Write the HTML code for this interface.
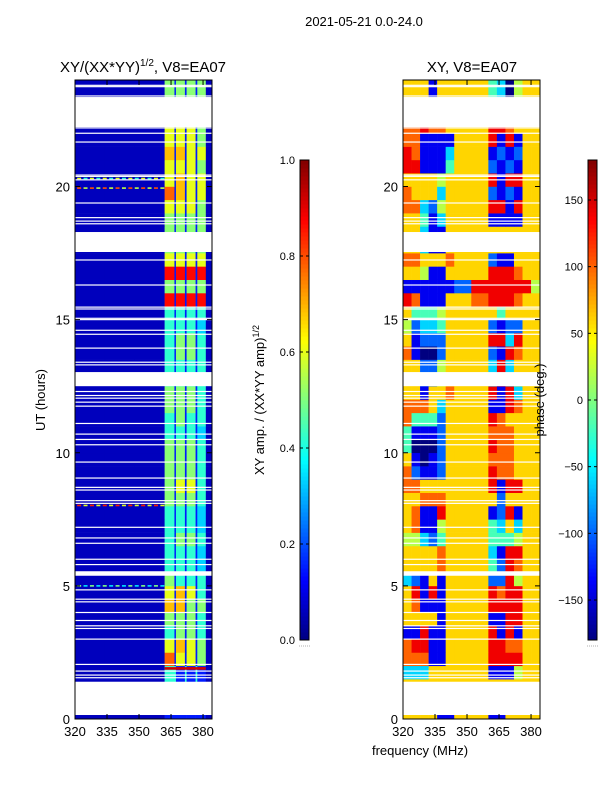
<!DOCTYPE html>
<html><head><meta charset="utf-8">
<style>
html,body{margin:0;padding:0;background:#fff;}
svg{display:block;font-family:"Liberation Sans",sans-serif;}
</style></head>
<body>
<svg id="fig" width="600" height="800" viewBox="0 0 600 800" xmlns="http://www.w3.org/2000/svg">
<rect width="600" height="800" fill="#fff"/>
<text x="364" y="26" font-size="13" text-anchor="middle">2021-05-21 0.0-24.0</text>
<text x="143" y="72" font-size="15" text-anchor="middle">XY/(XX*YY)<tspan font-size="10" dy="-6">1/2</tspan><tspan dy="6">, V8=EA07</tspan></text>
<text x="472" y="72" font-size="15" text-anchor="middle">XY, V8=EA07</text>
<text x="45" y="400" font-size="13" text-anchor="middle" transform="rotate(-90 45 400)">UT (hours)</text>
<text x="420" y="755" font-size="13" text-anchor="middle">frequency (MHz)</text>
<g id="ampPanel"></g>
<g id="phPanel"></g>
<g id="cb1"></g>
<g id="cb2"></g>
<text x="264" y="400" font-size="13" text-anchor="middle" transform="rotate(-90 264 400)">XY amp. / (XX*YY amp)<tspan font-size="9" dy="-5">1/2</tspan></text>
<text x="544" y="400" font-size="13" text-anchor="middle" transform="rotate(-90 544 400)">phase (deg.)</text>
</svg>
<script>
// ---- data ----
const yTicks = [0, 5, 10, 15, 20];
const xTicks = [320, 335, 350, 365, 380];
const ampFreqEdges = [320, 334, 348, 362, 366.6, 367.3, 371.5, 372.3, 376.5, 377.3, 381.3, 384.2];
// amplitude rows, 0.5 h bins from 0 h upward; digit d -> 0.06 + 0.09 d
const ampRows = [
"00011111110","00011111110","00044141410","00044141410","00081616150","00061716150",
"00041515140","00051515140","00071715150","00061716140","00051414140","00041414130",
"00041414130","00041515140","00041414130","00041414130","00051515140","00051616140",
"00051515140","00051515140","00051515140","00041414130","00041514140","00051515140",
"00051515140","00041414140","00041414140","00041515140","00041515140","00041414130",
"00041414140","00091919190","00051515150","00091919190","00061616160","00051515150",
"00051515150","00051515150","00061616150","00081716160","00061716160","00061616150",
"00071716160","00061616150","00061616150","00051515150","00051515150","00051515150"];
const phFreqEdges = [320,324,328,332,336,340,344,348,352,356,360,364,368,372,376,380,384.2];
// phase rows, 0.5 h bins from 0 h upward; digit d -> -180 + 40 d deg
const phRows = [
"6666116666116666","6666666666666666","6666666666666666","3336666666111566",
"7771166666888866","7881166666887766","1181166666818166","6666166666118866",
"6711166666888866","6818166666878866","3216166666228566","6666766666428766",
"6666766666318866","5532466666444566","6711566666436366","6711866666128166",
"6677766666626666","7766666666818866","7211266666877666","6101266666777666",
"4000266666877666","4111266666777666","7444266666876666","7776366666118766",
"6616676666818366","6622566666383666","6622566666383666","7100266666218766",
"6122266666883866","5233466666212266","6444566666646666","8711166677888766",
"1111112288888885","6651166666888766","7766676666211666","6631166666666666",
"6631166666666666","6641366666111166","7732566666881866","7666366666212166",
"6666566666818866","8811146666212166","8711136666121266","7711116666818166",
"7787766666887666","6666666666666666","6661666666430566","6661666666430566"];
const gapStarts = [0.15, 5.38, 12.5, 17.54, 22.23];
const gapEnds   = [1.40, 5.55, 13.03, 18.29, 23.36];
const lineHours = [1.55,1.65,1.8,2.05,3.0,3.4,3.5,3.7,4.0,4.4,4.5,4.85,5.8,6.0,6.6,6.8,7.2,8.1,8.2,8.6,8.7,9.05,9.65,10.3,10.5,10.7,11.1,11.75,11.9,12.05,12.15,12.3,13.3,13.4,13.93,14.45,14.6,15.0,15.05,15.4,15.47,16.3,17.24,18.6,18.7,18.83,19.38,20.25,20.38,20.43,21.67,22.0,22.2,23.4,23.75,23.8];
const ampSpikeHours = [19.94, 20.3, 8.02, 5.0];
const ampSpikeValues = [0.8, 0.6, 0.85, 0.5];
const stripeLineHours = [1.9];
const stripeLineValues = [0.92];
const cb1Ticks = [0.0, 0.2, 0.4, 0.6, 0.8, 1.0];
const cb2Ticks = [-150, -100, -50, 0, 50, 100, 150];

// ---- helpers ----
const NS = "http://www.w3.org/2000/svg";
function jet(x){x=Math.max(0,Math.min(1,x));
  const c=v=>Math.round(255*Math.max(0,Math.min(1,v)));
  return `rgb(${c(1.5-Math.abs(4*x-3))},${c(1.5-Math.abs(4*x-2))},${c(1.5-Math.abs(4*x-1))})`;}
function el(tag, attrs, parent){const e=document.createElementNS(NS,tag);for(const k in attrs)e.setAttribute(k,attrs[k]);parent.appendChild(e);return e;}
const TOP=80, BOT=719, H=24;
function yPix(h){return BOT-(h/H)*(BOT-TOP);}
function makeX(x0){return f=>x0+(f-320)*(137/64.2);}

function drawPanel(g, x0, edges, rows, valFn, isAmp){
  const xs=makeX(x0);
  const bh=0.5;
  rows.forEach((row,ri)=>{
    for(let ci=0;ci<edges.length-1;ci++){
      const v=valFn(+row[ci]);
      const r=el('rect',{x:xs(edges[ci]).toFixed(2),y:yPix((ri+1)*bh).toFixed(2),width:(xs(edges[ci+1])-xs(edges[ci])+0.3).toFixed(2),height:(yPix(ri*bh)-yPix((ri+1)*bh)+0.3).toFixed(2),fill:jet(v)},g);
      
      
    }
  });
  if(isAmp){
    ampSpikeHours.forEach((h,i)=>{
      for(let f=321;f<361;f+=3){
        const s=el('rect',{x:xs(f),y:yPix(h)-0.8,width:4,height:1.6,fill:jet(ampSpikeValues[i]*((f%2)?1:0.7))},g);
        
        
      }
    });
    stripeLineHours.forEach((h,i)=>{
      const s=el('rect',{x:xs(362),y:yPix(h)-1.3,width:xs(381.3)-xs(362),height:2.6,fill:jet(stripeLineValues[i])},g);
      
      
    });
  }
  lineHours.forEach(h=>{
    const l=el('rect',{x:x0,y:yPix(h)-0.6,width:137,height:1.2,fill:'#fff'},g);
    
    
  });
  gapStarts.forEach((s,i)=>{
    const r=el('rect',{x:x0,y:yPix(gapEnds[i]),width:137,height:yPix(s)-yPix(gapEnds[i]),fill:'#fff'},g);
    
    
  });
  el('rect',{x:x0,y:TOP,width:137,height:BOT-TOP,fill:'none',stroke:'#000','stroke-width':1},g);
  yTicks.forEach(t=>{
    const y=yPix(t);
    el('line',{x1:x0,x2:x0+5,y1:y,y2:y,stroke:'#000'},g);
    el('line',{x1:x0+137,x2:x0+132,y1:y,y2:y,stroke:'#000'},g);
    const tx=el('text',{x:x0-5,y:y+5,'font-size':13,'text-anchor':'end'},g);
    tx.textContent=t;
    
    
  });
  xTicks.forEach(t=>{
    const x=xs(t);
    el('line',{x1:x,x2:x,y1:BOT,y2:BOT-5,stroke:'#000'},g);
    el('line',{x1:x,x2:x,y1:TOP,y2:TOP+5,stroke:'#000'},g);
    const tx=el('text',{x:x,y:BOT+17,'font-size':13,'text-anchor':'middle'},g);
    tx.textContent=t;
    
    
  });
}
drawPanel(document.getElementById('ampPanel'),75,ampFreqEdges,ampRows,d=>0.06+0.09*d,true);
drawPanel(document.getElementById('phPanel'),403,phFreqEdges,phRows,d=>d/9,false);

function drawCb(g,x0,vmin,vmax,ticks,fmt){
  const t=160,b=640,n=120;
  for(let i=0;i<n;i++){
    el('rect',{x:x0,y:b-(i+1)*(b-t)/n,width:9,height:(b-t)/n+0.5,fill:jet((i+0.5)/n)},g);
  }
  el('rect',{x:x0,y:t,width:9,height:b-t,fill:'none',stroke:'#000'},g);
  ticks.forEach(v=>{
    const y=b-(v-vmin)/(vmax-vmin)*(b-t);
    el('line',{x1:x0,x2:x0+3,y1:y,y2:y,stroke:'#000'},g);
    el('line',{x1:x0+9,x2:x0+6,y1:y,y2:y,stroke:'#000'},g);
    const tx=el('text',{x:x0-5,y:y+4,'font-size':11,'text-anchor':'end'},g);
    tx.textContent=fmt(v);
    
    
  });
  el('line',{x1:x0-1,x2:x0+10,y1:646,y2:646,stroke:'#999','stroke-dasharray':'1,1','stroke-width':0.8},g);
}
drawCb(document.getElementById('cb1'),300,0,1,cb1Ticks,v=>v.toFixed(1));
drawCb(document.getElementById('cb2'),588,-180,180,cb2Ticks,v=>(v<0?'\u2212'+(-v):''+v));
</script>
</body></html>
